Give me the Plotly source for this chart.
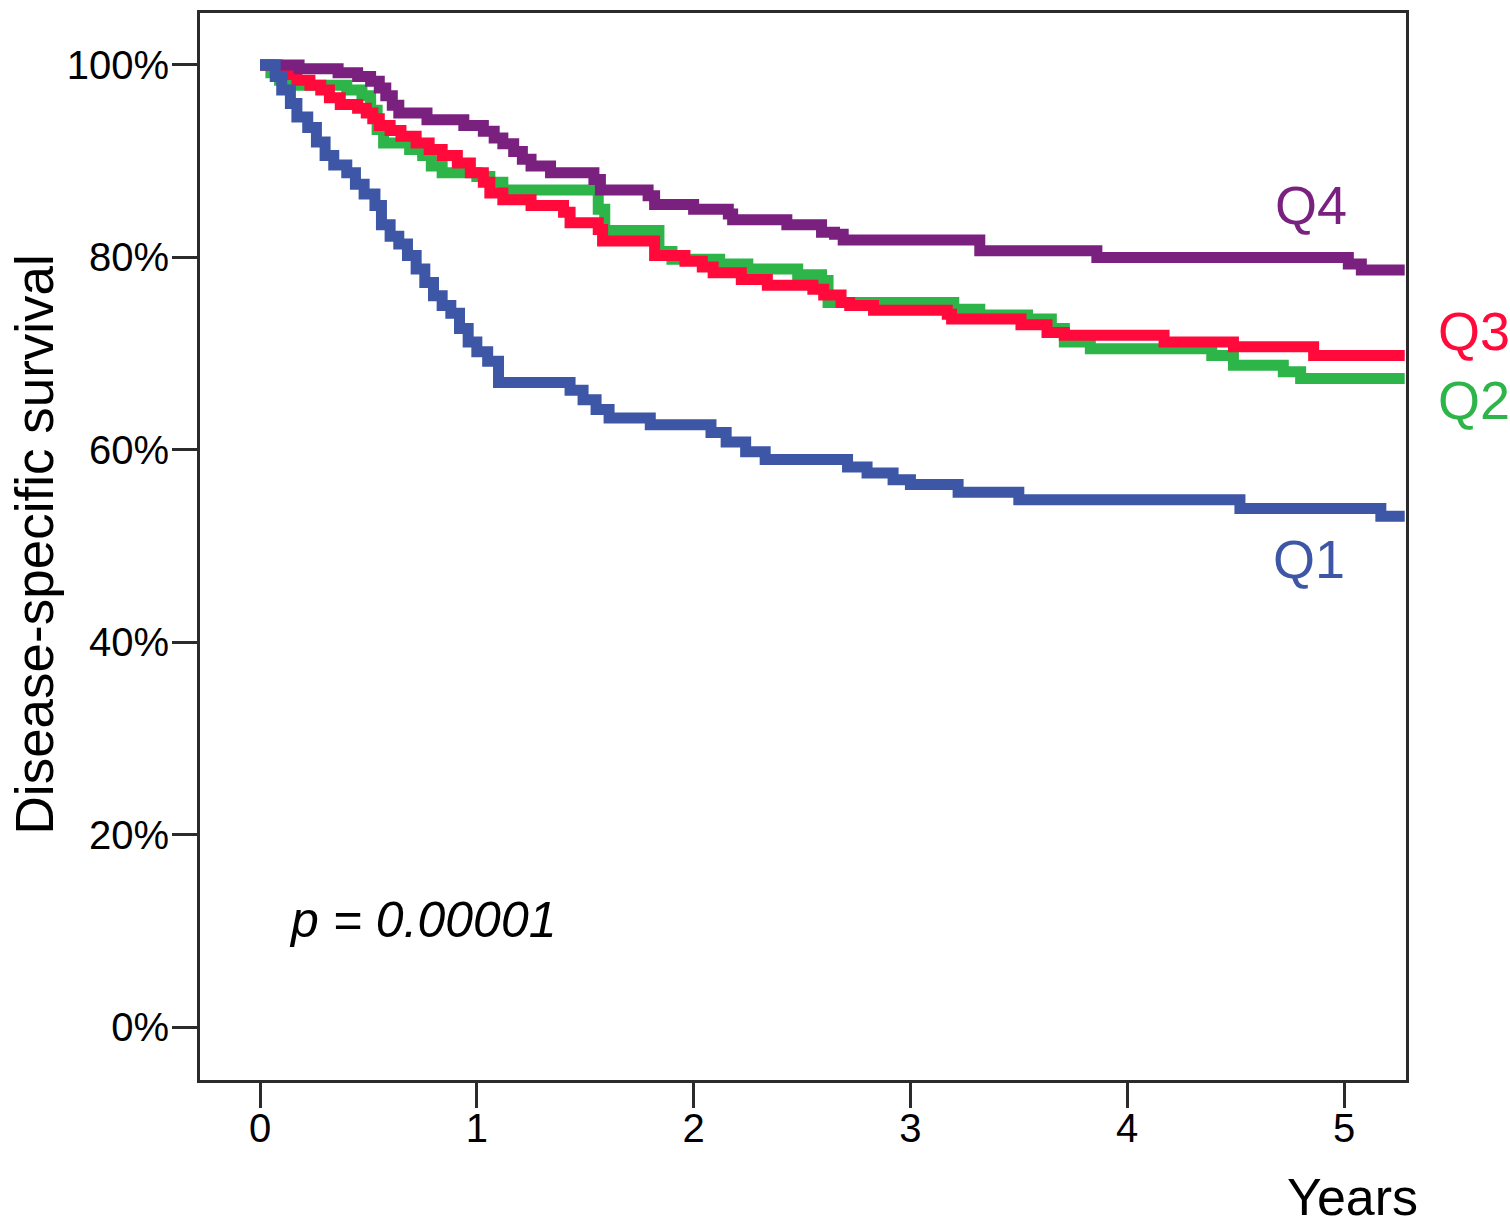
"""
Kaplan-Meier disease-specific survival by quartile (Q1-Q4).
"""

import plotly.graph_objects as go

# step curves: years, survival (%)
q1_years = [0, 0.07, 0.10, 0.14, 0.17, 0.22, 0.26, 0.30, 0.34, 0.40, 0.44, 0.48, 0.53, 0.56, 0.60,
            0.64, 0.68, 0.72, 0.76, 0.80, 0.84, 0.88, 0.92, 0.96, 1.00, 1.05, 1.10, 1.43, 1.49, 1.55,
            1.61, 1.80, 2.08, 2.15, 2.24, 2.33, 2.71, 2.80, 2.92, 3.00, 3.22, 3.50, 4.52, 5.17, 5.28]
q1_surv = [100, 98.8, 97.4, 96.0, 94.6, 93.5, 92.0, 90.6, 89.6, 88.8, 87.6, 86.6, 85.4, 83.4, 82.2,
           81.4, 80.2, 78.8, 77.4, 76.0, 75.0, 74.2, 72.6, 71.2, 70.2, 69.2, 67.0, 66.2, 65.2, 64.2,
           63.3, 62.6, 61.8, 60.8, 59.8, 59.0, 58.2, 57.6, 56.9, 56.4, 55.6, 54.8, 53.9, 53.1, 53.1]

q2_years = [0, 0.05, 0.09, 0.15, 0.40, 0.47, 0.51, 0.54, 0.57, 0.69, 0.75, 0.79, 0.84, 1.00, 1.06,
            1.12, 1.56, 1.59, 1.84, 1.90, 2.12, 2.25, 2.48, 2.59, 2.62, 3.20, 3.32, 3.54, 3.65, 3.71,
            3.83, 4.39, 4.49, 4.72, 4.80, 5.28]
q2_surv = [100, 99.2, 98.4, 97.9, 97.4, 96.8, 95.3, 93.3, 91.9, 91.2, 90.6, 89.5, 88.8, 88.4, 87.8,
           87.0, 85.0, 82.8, 80.6, 79.8, 79.3, 78.8, 78.2, 77.6, 75.3, 74.6, 74.0, 73.6, 72.6, 71.2,
           70.5, 69.8, 68.8, 68.1, 67.4, 67.4]

q3_years = [0, 0.08, 0.17, 0.23, 0.28, 0.32, 0.37, 0.45, 0.49, 0.52, 0.55, 0.60, 0.65, 0.72, 0.78,
            0.84, 0.91, 0.97, 1.03, 1.06, 1.12, 1.25, 1.40, 1.43, 1.56, 1.58, 1.82, 1.96, 2.04, 2.09,
            2.22, 2.34, 2.55, 2.60, 2.68, 2.72, 2.83, 3.17, 3.19, 3.51, 3.63, 3.71, 4.17, 4.49, 4.86,
            5.28]
q3_surv = [100, 99.0, 98.4, 97.9, 97.4, 96.6, 95.9, 95.5, 95.0, 94.4, 93.7, 93.2, 92.6, 91.9, 91.2,
           90.6, 89.8, 88.8, 87.8, 86.7, 86.0, 85.4, 84.7, 83.6, 82.9, 81.7, 80.2, 79.6, 79.0, 78.4,
           77.7, 77.1, 76.7, 76.1, 75.3, 75.0, 74.5, 74.1, 73.6, 73.0, 72.2, 71.9, 71.2, 70.7, 69.8,
           69.8]

q4_years = [0, 0.18, 0.36, 0.45, 0.51, 0.55, 0.58, 0.61, 0.64, 0.77, 0.94, 1.03, 1.08, 1.12, 1.17,
            1.21, 1.25, 1.34, 1.54, 1.57, 1.79, 1.82, 2.00, 2.16, 2.18, 2.43, 2.59, 2.65, 2.69, 3.32,
            3.86, 5.02, 5.08, 5.28]
q4_surv = [100, 99.6, 99.2, 98.8, 98.3, 97.6, 96.8, 95.8, 95.0, 94.3, 93.7, 93.1, 92.4, 91.8, 91.0,
           90.2, 89.5, 88.8, 88.1, 87.0, 86.4, 85.5, 85.0, 84.5, 83.9, 83.4, 82.6, 82.4, 81.8, 80.7,
           80.0, 79.3, 78.7, 78.7]

x_ticks = [0, 1, 2, 3, 4, 5]
y_ticks = [0, 20, 40, 60, 80, 100]
y_tick_labels = ['0%', '20%', '40%', '60%', '80%', '100%']

X_RANGE = [-0.277, 5.286]
Y_RANGE = [-5.5, 105.4]

groups = ['Q2', 'Q3', 'Q4', 'Q1']
colors = {'Q1': '#3D56A6', 'Q2': '#2DB54A', 'Q3': '#FF0A3A', 'Q4': '#7A2180'}
curves = {'Q1': (q1_years, q1_surv), 'Q2': (q2_years, q2_surv),
          'Q3': (q3_years, q3_surv), 'Q4': (q4_years, q4_surv)}
# where the group labels sit (years, %); Q2/Q3 are right of the frame
label_pos = {'Q4': (4.85, 85.4), 'Q3': (5.60, 72.4), 'Q2': (5.60, 65.2), 'Q1': (4.84, 48.7)}

FONT = 'Liberation Sans, Arial, Helvetica, sans-serif'
AXIS_COLOR = '#2b2b2b'


def to_paper(x, y):
    # annotations outside the axis range get hidden, so use paper coords
    px = (x - X_RANGE[0]) / (X_RANGE[1] - X_RANGE[0])
    py = (y - Y_RANGE[0]) / (Y_RANGE[1] - Y_RANGE[0])
    return px, py


fig = go.Figure()
for g in groups:
    years, surv = curves[g]
    fig.add_trace(go.Scatter(x=years, y=surv, name=g, mode='lines', line_shape='hv',
                             line=dict(color=colors[g], width=11)))

for g, (lx, ly) in label_pos.items():
    px, py = to_paper(lx, ly)
    fig.add_annotation(x=px, y=py, text=g, showarrow=False, xref='paper', yref='paper',
                       xanchor='center', yanchor='middle',
                       font=dict(family=FONT, size=54, color=colors[g]))

fig.add_annotation(x=0.125, y=11.1, text='<i>p = 0.00001</i>', showarrow=False, xref='x', yref='y',
                   xanchor='left', font=dict(family=FONT, size=50, color='black'))

# axis titles placed by hand, like the original
fig.add_annotation(x=1.0116, y=-0.110, xref='paper', yref='paper', text='Years', showarrow=False,
                   xanchor='right', yanchor='middle', font=dict(family=FONT, size=52, color='black'))
fig.add_annotation(x=-0.1376, y=0.502, xref='paper', yref='paper', text='Disease-specific survival',
                   showarrow=False, textangle=-90, xanchor='center', yanchor='middle',
                   font=dict(family=FONT, size=53, color='black'))

fig.update_xaxes(range=X_RANGE, tickvals=x_ticks, ticks='outside', ticklen=25, tickwidth=3,
                 tickcolor=AXIS_COLOR, showline=True, linewidth=3, linecolor=AXIS_COLOR, mirror=True,
                 showgrid=False, zeroline=False, ticklabelstandoff=-14,
                 tickfont=dict(family=FONT, size=40, color='black'))
fig.update_yaxes(range=Y_RANGE, tickvals=y_ticks, ticktext=y_tick_labels, ticks='outside',
                 ticklen=25, tickwidth=3, tickcolor=AXIS_COLOR, showline=True, linewidth=3,
                 linecolor=AXIS_COLOR, mirror=True, showgrid=False, zeroline=False,
                 ticklabelstandoff=-5, tickfont=dict(family=FONT, size=40, color='black'))

fig.update_layout(width=1510, height=1228, showlegend=False,
                  margin=dict(l=200, r=104, t=10, b=148),
                  plot_bgcolor='white', paper_bgcolor='white')

# drop the page's default 8px body margin so the figure fills the window exactly
fig.write_html("out.html", config={'displayModeBar': False},
               post_script="document.body.style.margin = '0px';")
